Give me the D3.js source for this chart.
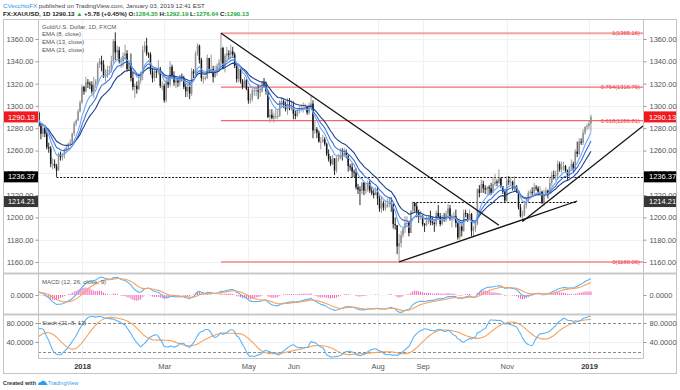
<!DOCTYPE html>
<html><head><meta charset="utf-8">
<script src="https://cdn.jsdelivr.net/npm/d3@7"></script>
<style>body{margin:0;background:#fff}svg{display:block;font-family:"Liberation Sans",Arial,sans-serif}</style>
</head><body><svg id="c" width="680" height="390"></svg>
<script>
// ---------- DATA (FX:XAUUSD daily, Oct 2017 - Jan 3 2019) ----------
const openP = [
/*Oct17*/1280,1271,1274,1276,1269,1274,1285,1293,1293,1296,1304,1303,1285,1282,1290,1280,1282,1276,1278,1266,1272,1275,
/*Nov17*/1271,1276,1277,1269,1281,1275,1282,1285,1274,1278,1281,1278,1277,1294,1275,1281,1291,1291,1288,1294,1294,1282,
/*Dec17*/1275,1280,1275,1263,1262,1248,1248,1246,1242,1257,1254,1256,1261,1263,1266,1267,1275,1284,1287,1295,
/*Jan18*/1303,1317,1313,1321,1320,1319,1313,1319,1322,1338,1340,1337,1327,1327,1332,1332,1340,1358,1348,1350,1340,1340,
/*Feb18*/1345,1347,1333,1338,1325,1317,1318,1315,1323,1329,1350,1354,1347,1346,1331,1325,1331,1330,1333,1318,
/*Mar18*/1318,1305,1322,1319,1335,1327,1321,1323,1321,1326,1325,1317,1313,1317,1311,1331,1329,1347,1354,1341,1325,1325,
/*Apr18*/1325,1343,1332,1333,1326,1332,1336,1339,1352,1334,1345,1347,1346,1349,1346,1336,1324,1333,1322,1317,1323,
/*May18*/1315,1305,1306,1314,1314,1314,1313,1313,1321,1319,1313,1290,1292,1289,1291,1291,1291,1304,1304,1301,1297,1299,1298,
/*Jun18*/1298,1293,1291,1296,1297,1298,1298,1299,1294,1299,1302,1278,1279,1276,1268,1268,1270,1266,1257,1252,1248,
/*Jul18*/1253,1242,1253,1253,1256,1255,1258,1255,1246,1245,1241,1240,1227,1225,1224,1231,1224,1225,1231,1224,1222,1220,
/*Aug18*/1223,1217,1208,1213,1209,1209,1212,1213,1212,1194,1193,1174,1177,1184,1190,1195,1195,1186,1206,1213,1210,1205,1201,
/*Sep18*/1201,1194,1193,1197,1200,1196,1195,1194,1204,1201,1194,1199,1198,1203,1208,1199,1199,1201,1195,1182,
/*Oct18*/1192,1188,1204,1203,1199,1203,1188,1190,1194,1225,1222,1230,1226,1225,1227,1226,1222,1230,1232,1231,1235,1228,1223,
/*Nov18*/1215,1233,1232,1232,1227,1228,1224,1209,1201,1202,1211,1214,1222,1223,1222,1227,1226,1223,1223,1213,1221,1224,
/*Dec18*/1222,1231,1238,1237,1238,1248,1243,1245,1246,1242,1238,1245,1248,1243,1259,1257,1268,1267,1276,1281,
/*Jan19*/1282,1284.35];
const highP = [
1282,1276,1279,1278,1276,1287,1295,1296,1298,1306,1306,1304,1287,1291,1290,1284,1283,1283,1280,1273,1277,1279,
1279,1284,1282,1282,1283,1284,1289,1287,1280,1286,1283,1283,1297,1294,1283,1292,1293,1293,1298,1299,1295,1285,
1284,1281,1277,1267,1264,1253,1252,1248,1258,1259,1258,1262,1264,1267,1270,1276,1286,1288,1297,1305,
1319,1318,1326,1324,1322,1322,1326,1324,1339,1343,1345,1341,1333,1336,1336,1345,1360,1366,1354,1353,1344,1348,
1355,1350,1340,1347,1330,1320,1322,1328,1331,1354,1358,1361,1348,1348,1334,1333,1334,1341,1335,1322,
1320,1325,1324,1340,1337,1331,1326,1324,1328,1329,1327,1320,1319,1321,1334,1333,1349,1356,1355,1343,1327,1327,
1346,1343,1346,1336,1336,1338,1342,1365.16,1353,1347,1353,1350,1355,1353,1348,1336,1335,1334,1324,1326,1324,
1317,1311,1317,1317,1317,1319,1316,1322,1325,1322,1314,1297,1297,1294,1297,1296,1305,1307,1306,1304,1307,1307,1305,
1304,1296,1297,1300,1301,1303,1302,1300,1303,1309,1305,1286,1281,1278,1272,1274,1272,1267,1261,1255,1256,
1253,1255,1257,1262,1262,1262,1261,1257,1248,1249,1243,1244,1230,1228,1232,1232,1230,1233,1233,1227,1225,1227,
1227,1219,1219,1215,1215,1217,1218,1218,1212,1200,1193,1185,1188,1191,1201,1201,1197,1206,1214.21,1213.5,1213,1207,1206,
1202,1195,1201,1202,1206,1200,1198,1206,1211,1204,1202,1204,1206,1212,1211,1203,1205,1207,1196,1196,
1193,1207,1207,1204,1207,1204,1192,1196,1226,1229,1234,1233,1229,1228,1229,1231,1236,1239,1234,1243,1236,1228,1225,
1237,1237,1236,1233,1237,1229,1224,1212,1206,1215,1217,1224,1225,1227,1231,1229,1228,1228,1224,1225,1227,1225,
1236,1241,1242,1242,1251,1250,1250,1250,1247,1243,1246,1252,1250,1261,1268,1271,1271,1279,1282,1284,
1287,1292.19];
const lowP = [
1269,1267,1271,1266,1262,1273,1283,1285,1290,1294,1299,1282,1276,1278,1278,1277,1274,1273,1265,1264,1269,1268,
1268,1274,1264,1266,1271,1273,1280,1271,1270,1276,1274,1275,1276,1273,1274,1280,1288,1285,1286,1292,1281,1270,
1272,1272,1261,1258,1245,1243,1244,1236.37,1242,1251,1251,1253,1258,1261,1264,1265,1273,1282,1286,1294,
1302,1310,1312,1316,1315,1311,1307,1316,1318,1334,1331,1325,1322,1325,1328,1330,1338,1341,1343,1338,1334,1335,
1341,1331,1332,1322,1314,1307,1311,1314,1320,1323,1348,1345,1343,1328,1321,1322,1325,1328,1316,1314,
1303,1303,1316,1317,1324,1318,1316,1317,1318,1322,1315,1308,1308,1306,1309,1325,1327,1345,1338,1322,1320,1323,
1324,1330,1329,1321,1325,1327,1332,1338,1333,1330,1339,1342,1342,1343,1334,1321,1321,1320,1315,1316,1314,
1302,1302,1304,1309,1309,1306,1308,1312,1317,1310,1289,1285,1288,1285,1288,1288,1290,1298,1298,1295,1292,1296,1296,
1288,1288,1290,1293,1295,1294,1296,1292,1292,1299,1271,1275,1271,1267,1261,1267,1264,1255,1250,1246,1247,
1238,1240,1250,1252,1251,1254,1253,1241,1242,1236,1236,1225,1221,1211,1221,1220,1221,1223,1222,1220,1217,1220,
1211,1205,1204,1206,1206,1209,1209,1205,1190,1189,1167,1160.06,1173,1182,1186,1191,1183,1186,1203,1205,1200,1195,1198,
1192,1187,1192,1194,1193,1193,1187,1192,1199,1192,1193,1196,1196,1199,1197,1191,1197,1191,1180,1180,
1183,1187,1200,1196,1198,1183,1183,1187,1193,1218,1223,1222,1221,1220,1220,1220,1222,1228,1228,1230,1226,1221,1213,
1214,1229,1229,1224,1223,1222,1207,1200,1196.3,1201,1208,1213,1220,1219,1220,1224,1220,1220,1212,1210,1219,1217,
1225,1228,1234,1233,1234,1241,1240,1242,1240,1233,1236,1242,1240,1242,1254,1256,1265,1265,1274,1278,
1279,1276.64];
const closeP = [
1271,1274,1276,1269,1274,1285,1293,1293,1296,1304,1303,1285,1282,1290,1280,1282,1276,1278,1266,1272,1275,1271,
1276,1277,1269,1281,1275,1282,1285,1274,1278,1281,1278,1277,1294,1275,1281,1291,1291,1288,1294,1294,1282,1275,
1280,1275,1263,1262,1248,1248,1246,1242,1257,1254,1256,1261,1263,1266,1267,1275,1284,1287,1295,1303,
1317,1313,1321,1320,1319,1313,1319,1322,1338,1340,1337,1327,1327,1332,1332,1340,1358,1348,1350,1340,1340,1345,
1347,1333,1338,1325,1317,1318,1315,1323,1329,1350,1354,1347,1346,1331,1325,1331,1330,1333,1318,1318,
1305,1322,1319,1335,1327,1321,1323,1321,1326,1325,1317,1313,1317,1311,1331,1329,1347,1354,1341,1325,1325,1325,
1343,1332,1333,1326,1332,1336,1339,1352,1334,1345,1347,1346,1349,1346,1336,1324,1333,1322,1317,1323,1315,
1305,1306,1314,1314,1314,1313,1313,1321,1319,1313,1290,1292,1289,1291,1291,1291,1304,1304,1301,1297,1299,1298,1298,
1293,1291,1296,1297,1298,1298,1299,1294,1299,1302,1278,1279,1276,1268,1268,1270,1266,1257,1252,1248,1253,
1242,1253,1253,1256,1255,1258,1255,1246,1245,1241,1240,1227,1225,1224,1231,1224,1225,1231,1224,1222,1220,1223,
1217,1208,1213,1209,1209,1212,1213,1212,1194,1193,1174,1177,1184,1190,1195,1195,1186,1206,1213,1210,1205,1201,1201,
1194,1193,1197,1200,1196,1195,1194,1204,1201,1194,1199,1198,1203,1208,1199,1199,1201,1195,1182,1192,
1188,1204,1203,1199,1203,1188,1190,1194,1225,1222,1230,1226,1225,1227,1226,1222,1230,1232,1231,1235,1228,1223,1215,
1233,1232,1232,1227,1228,1224,1209,1201,1202,1211,1214,1222,1223,1222,1227,1226,1223,1223,1213,1221,1224,1222,
1231,1238,1237,1238,1248,1243,1245,1246,1242,1238,1245,1248,1243,1259,1257,1268,1267,1276,1281,1282,
1284.35,1290.13];

const priceTicks = [1160,1180,1200,1220,1240,1260,1280,1300,1320,1340,1360];
const monthTickDates = ["2018-01-02","2018-03-01","2018-05-01","2018-06-01","2018-08-01","2018-09-03","2018-11-01","2019-01-02"];
const monthTickLabels = ["2018","Mar","May","Jun","Aug","Sep","Nov","2019"];
const fibLevels = [1, 0.764, 0.618, 0];
const fibPrices = [1365.16, 1316.76, 1286.81, 1160.06];
const fibStart = "2018-04-11";
const trendLines = [
  {from:["2018-04-11",1365.16], to:["2018-10-26",1192.9], extend:false},
  {from:["2018-08-16",1160.06], to:["2018-12-21",1214.7], extend:false},
  {from:["2018-11-13",1196.3], to:["2019-01-03",1245.0], extend:true}
];
const dottedLevels = [
  {v:1236.37, from:"2017-12-12", to:null},
  {v:1214.21, from:"2018-08-27", to:"2018-12-21"}
];
const priceTags = [
  {v:1290.13, fill:"#f2191f"},
  {v:1236.37, fill:"#000000"},
  {v:1214.21, fill:"#363636"}
];

// ---------- trading dates (weekdays, no Dec 25 / Jan 1) ----------
const dates=[];
for(let d=new Date(Date.UTC(2017,9,2)); d<=new Date(Date.UTC(2019,0,3)); d.setUTCDate(d.getUTCDate()+1)){
  const wd=d.getUTCDay(), md=(d.getUTCMonth()+1)*100+d.getUTCDate();
  if(wd===0||wd===6||md===1225||md===101) continue;
  dates.push(d.toISOString().slice(0,10));
}
const N0 = dates.indexOf("2018-01-02");
const idxOf = s => dates.indexOf(s) - N0;
const bars = dates.map((d,k)=>({d, i:k-N0, o:openP[k], h:highP[k], l:lowP[k], c:closeP[k]}));

// ---------- indicators ----------
function ema(a,n){const k=2/(n+1);const out=[];a.forEach((v,j)=>out.push(j?v*k+out[j-1]*(1-k):v));return out;}
function sma(a,n){return a.map((v,j)=>{if(j<n-1)return null;let s=0;for(let t=j-n+1;t<=j;t++){if(a[t]==null)return null;s+=a[t];}return s/n;});}
const e8=ema(closeP,8), e13=ema(closeP,13), e21=ema(closeP,21);
const e12=ema(closeP,12), e26=ema(closeP,26);
const macd=e12.map((v,j)=>v-e26[j]);
const sig=ema(macd,9);
const hist=macd.map((v,j)=>v-sig[j]);
const raw=closeP.map((c,j)=>{if(j<20)return null;const hh=d3.max(highP.slice(j-20,j+1)),ll=d3.min(lowP.slice(j-20,j+1));return 100*(c-ll)/(hh-ll);});
const stK=sma(raw,8), stD=sma(stK,13);

// ---------- layout ----------
const W=680,H=390,L=38,R=643;
const mainTop=20, mainBot=273, macdTop=274, macdBot=314, stTop=315, stBot=358;
const svg=d3.select("#c");
svg.append("rect").attr("width",W).attr("height",H).attr("fill","#fff");

const x=d3.scaleLinear().domain([-22.48,286.6]).range([L,R]);
const y=d3.scaleLinear().domain([1160,1360]).range([262,39]);
const vis=bars.filter(b=>b.i>=-23);
const visIdx=vis.map(b=>b.i+N0);
const mMax=d3.max(visIdx,j=>Math.max(Math.abs(macd[j]),Math.abs(sig[j])));
const yM=d3.scaleLinear().domain([0,mMax]).range([295,277]);
const yS=d3.scaleLinear().domain([0,100]).range([361,313.5]);

const defs=svg.append("defs");
[["cm",mainTop,mainBot],["cmacd",macdTop,macdBot],["cst",stTop,stBot]].forEach(([id,t,b])=>{
  defs.append("clipPath").attr("id",id).append("rect").attr("x",L).attr("y",t).attr("width",R-L).attr("height",b-t);
});

const tickIdx=monthTickDates.map(idxOf);
// grid
const grid=svg.append("g").attr("stroke","#eef1f6").attr("stroke-width",1);
tickIdx.forEach(t=>grid.append("line").attr("x1",Math.round(x(t))+0.5).attr("x2",Math.round(x(t))+0.5).attr("y1",mainTop).attr("y2",stBot));
priceTicks.forEach(p=>grid.append("line").attr("x1",L).attr("x2",R).attr("y1",Math.round(y(p))+0.5).attr("y2",Math.round(y(p))+0.5));
grid.append("line").attr("x1",L).attr("x2",R).attr("y1",Math.round(yS(40))+0.5).attr("y2",Math.round(yS(40))+0.5);

// ---------- main pane ----------
const gm=svg.append("g").attr("clip-path","url(#cm)");
fibPrices.forEach((p,k)=>{
  const thick = (fibLevels[k]===1||fibLevels[k]===0);
  gm.append("line").attr("x1",x(idxOf(fibStart))).attr("x2",R).attr("y1",y(p)).attr("y2",y(p))
    .attr("stroke",thick?"#f7a3a3":"#f46a6a").attr("stroke-width",thick?2:1.2);
  gm.append("text").attr("x",640).attr("y",y(p)).attr("dy","0.35em").attr("text-anchor","end")
    .attr("font-size","5.8px").attr("fill","#f23645").text(`${fibLevels[k]}(${p.toFixed(2)})`);
});
dottedLevels.forEach(dl=>{
  gm.append("line").attr("x1",x(idxOf(dl.from))).attr("x2",dl.to?x(idxOf(dl.to)):R)
    .attr("y1",Math.round(y(dl.v))+0.5).attr("y2",Math.round(y(dl.v))+0.5)
    .attr("stroke","#111").attr("stroke-width",1).attr("stroke-dasharray","2,1.5");
});
const cg=gm.append("g");
vis.forEach(b=>{
  const up=b.c>=b.o, col=up?"#8e8e8e":"#141414";
  const hi=Math.max(b.h,b.o,b.c), lo=Math.min(b.l,b.o,b.c);
  const cx=x(b.i);
  cg.append("line").attr("x1",cx).attr("x2",cx).attr("y1",y(hi)).attr("y2",y(lo)).attr("stroke",col).attr("stroke-width",0.9);
  const top=y(Math.max(b.o,b.c)), bh=Math.max(1,Math.abs(y(b.o)-y(b.c)));
  cg.append("rect").attr("x",cx-0.75).attr("width",1.5).attr("y",top).attr("height",bh).attr("fill",col);
});
const lineP=d3.line().x(d=>x(d.i)).y(d=>y(d.v));
[[e21,"#1d3f8f"],[e13,"#3b6fd6"],[e8,"#6ea6f5"]].forEach(([arr,col])=>{
  gm.append("path").datum(bars.map((b,k)=>({i:b.i,v:arr[k]})).filter(d=>d.i>=-30))
    .attr("d",lineP).attr("fill","none").attr("stroke",col).attr("stroke-width",1.1);
});
trendLines.forEach(t=>{
  const i1=idxOf(t.from[0]), i2=idxOf(t.to[0]);
  let x2=i2, v2=t.to[1];
  if(t.extend){const sl=(t.to[1]-t.from[1])/(i2-i1); x2=x.domain()[1]; v2=t.from[1]+sl*(x2-i1);}
  gm.append("line").attr("x1",x(i1)).attr("y1",y(t.from[1])).attr("x2",x(x2)).attr("y2",y(v2))
    .attr("stroke","#111").attr("stroke-width",1.3);
});

// ---------- MACD pane ----------
const gmac=svg.append("g").attr("clip-path","url(#cmacd)");
vis.forEach(b=>{
  const j=b.i+N0;
  gmac.append("line").attr("x1",x(b.i)).attr("x2",x(b.i)).attr("y1",yM(0)).attr("y2",yM(hist[j]))
    .attr("stroke","#f062b4").attr("stroke-width",1);
});
const lineM=d3.line().x(d=>x(d.i)).y(d=>yM(d.v));
[[macd,"#5cb3f5"],[sig,"#f6a35b"]].forEach(([arr,col])=>{
  gmac.append("path").datum(bars.map((b,k)=>({i:b.i,v:arr[k]})).filter(d=>d.i>=-30))
    .attr("d",lineM).attr("fill","none").attr("stroke",col).attr("stroke-width",1.1);
});

// ---------- Stoch pane ----------
const gst=svg.append("g").attr("clip-path","url(#cst)");
[80,20].forEach(v=>gst.append("line").attr("x1",L).attr("x2",R).attr("y1",Math.round(yS(v))+0.5).attr("y2",Math.round(yS(v))+0.5)
  .attr("stroke","#8a8a8a").attr("stroke-width",1).attr("stroke-dasharray","3,2"));
const lineS=d3.line().defined(d=>d.v!=null).curve(d3.curveMonotoneX).x(d=>x(d.i)).y(d=>yS(d.v));
[[stD,"#f6a35b"],[stK,"#5cb3f5"]].forEach(([arr,col])=>{
  gst.append("path").datum(bars.map((b,k)=>({i:b.i,v:arr[k]})).filter(d=>d.i>=-30))
    .attr("d",lineS).attr("fill","none").attr("stroke",col).attr("stroke-width",1.1);
});

// ---------- frames ----------
const fr=svg.append("g").attr("fill","none");
fr.append("rect").attr("x",3.5).attr("y",19.5).attr("width",673).attr("height",354).attr("stroke","#c4c4c4");
[mainBot,macdBot].forEach(v=>fr.append("line").attr("x1",3).attr("x2",677).attr("y1",v+0.5).attr("y2",v+0.5).attr("stroke","#c9c9c9").attr("stroke-width",2));
fr.append("line").attr("x1",L+0.5).attr("x2",L+0.5).attr("y1",19.5).attr("y2",stBot+0.5).attr("stroke","#c4c4c4");
fr.append("line").attr("x1",R+0.5).attr("x2",R+0.5).attr("y1",19.5).attr("y2",stBot+0.5).attr("stroke","#c4c4c4");
fr.append("line").attr("x1",L).attr("x2",R+0.5).attr("y1",stBot+0.5).attr("y2",stBot+0.5).attr("stroke","#c4c4c4");

// ---------- axes ----------
function styleAxis(g){g.select(".domain").remove();g.selectAll("line").attr("stroke","#9a9a9a");g.selectAll("text").attr("fill","#555").attr("font-size","7.5px").attr("font-family","Liberation Sans, Arial, sans-serif");}
svg.append("g").attr("transform",`translate(${R+0.5},0)`).call(d3.axisRight(y).tickValues(priceTicks).tickFormat(d3.format(".2f")).tickSize(3).tickPadding(3)).call(styleAxis);
svg.append("g").attr("transform",`translate(${L+0.5},0)`).call(d3.axisLeft(y).tickValues(priceTicks).tickFormat(d3.format(".2f")).tickSize(3).tickPadding(2)).call(styleAxis);
svg.append("g").attr("transform",`translate(${R+0.5},0)`).call(d3.axisRight(yM).tickValues([0]).tickFormat(d3.format(".4f")).tickSize(3).tickPadding(3)).call(styleAxis);
svg.append("g").attr("transform",`translate(${L+0.5},0)`).call(d3.axisLeft(yM).tickValues([0]).tickFormat(d3.format(".4f")).tickSize(3).tickPadding(2)).call(styleAxis);
svg.append("g").attr("transform",`translate(${R+0.5},0)`).call(d3.axisRight(yS).tickValues([80,40]).tickFormat(d3.format(".4f")).tickSize(3).tickPadding(3)).call(styleAxis);
svg.append("g").attr("transform",`translate(${L+0.5},0)`).call(d3.axisLeft(yS).tickValues([80,40]).tickFormat(d3.format(".4f")).tickSize(3).tickPadding(2)).call(styleAxis);
const xa=svg.append("g").attr("transform",`translate(0,${stBot})`)
  .call(d3.axisBottom(x).tickValues(tickIdx).tickFormat((d,k)=>monthTickLabels[k]).tickSize(0).tickPadding(6)).call(styleAxis);
xa.selectAll("text").attr("font-weight",(d,k)=>/^\d{4}$/.test(monthTickLabels[k])?"bold":"normal").attr("fill",(d,k)=>/^\d{4}$/.test(monthTickLabels[k])?"#333":"#555");

// price tags
priceTags.forEach(t=>{
  const yy=y(t.v);
  svg.append("rect").attr("x",R+1).attr("y",yy-5.5).attr("width",676-R-1).attr("height",11).attr("fill",t.fill);
  svg.append("text").attr("x",R+6).attr("y",yy).attr("dy","0.35em").attr("fill","#fff").attr("font-size","7.5px").text(t.v.toFixed(2));
  svg.append("rect").attr("x",4).attr("y",yy-5.5).attr("width",L-4).attr("height",11).attr("fill",t.fill);
  svg.append("text").attr("x",L-3).attr("y",yy).attr("dy","0.35em").attr("text-anchor","end").attr("fill","#fff").attr("font-size","7.5px").text(t.v.toFixed(2));
});

// legends
const lg=svg.append("g").attr("font-size","6px").attr("fill","#555");
["Gold/U.S. Dollar, 1D, FXCM","EMA (8, close)","EMA (13, close)","EMA (21, close)"].forEach((s,k)=>lg.append("text").attr("x",42).attr("y",28.5+k*7.7).text(s));
lg.append("text").attr("x",42).attr("y",284).text("MACD (12, 26, close, 9)");
lg.append("text").attr("x",42).attr("y",325).text("Stoch (21, 8, 13)");

// header
const h1=svg.append("text").attr("x",3).attr("y",7.5).attr("font-size","6.2px").attr("fill","#444");
h1.append("tspan").attr("fill","#2196f3").text("CVecchioFX");
h1.append("tspan").text(" published on TradingView.com, January 03, 2019 12:41 EST");
const h2=svg.append("text").attr("x",3).attr("y",15.5).attr("font-size","6.2px").attr("font-weight","bold").attr("fill","#222");
const G="#26a63a";
[["FX:XAUUSD, 1D ","#222"],["1290.13 ","#222"],["▲ ",G],["+5.78 (+0.45%) ","#222"],["O:","#222"],["1284.35 ",G],["H:","#222"],["1292.19 ",G],["L:","#222"],["1276.64 ",G],["C:","#222"],["1290.13",G]]
  .forEach(([s,c])=>h2.append("tspan").attr("fill",c).text(s));

// footer
svg.append("text").attr("x",3).attr("y",385).attr("font-size","5.5px").attr("font-weight","bold").attr("fill","#333").text("Created with");
svg.append("path").attr("d","M38,385 q0,-3 3,-3 q1,-2 3,-1 q2,0 2,2 q1.5,0 1.5,2 z").attr("fill","#2a9df4");
svg.append("text").attr("x",48).attr("y",385).attr("font-size","5.5px").attr("fill","#2a9df4").text("TradingView");
</script></body></html>
